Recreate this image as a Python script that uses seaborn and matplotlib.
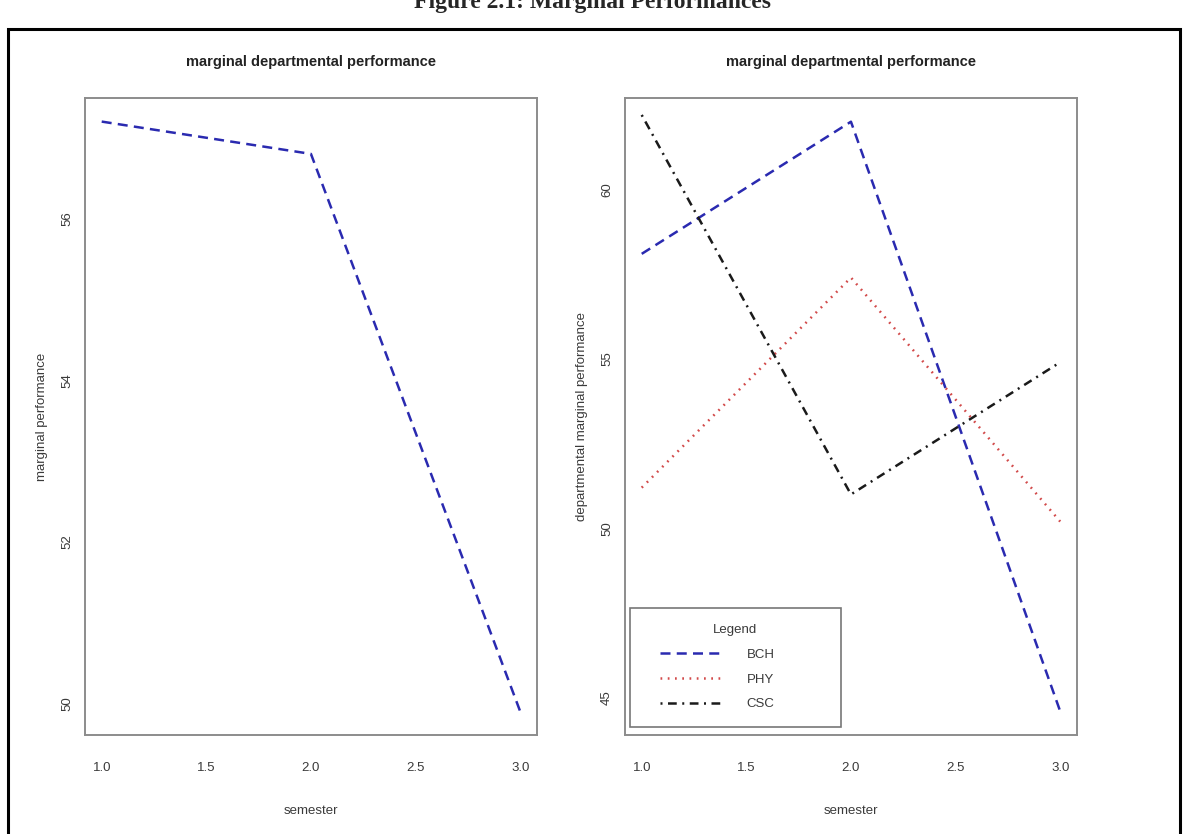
import matplotlib
matplotlib.use("Agg")
import matplotlib.pyplot as plt
import seaborn as sns
import numpy as np
import pandas as pd
from matplotlib.lines import Line2D
from matplotlib.patches import Rectangle

# values
semesters = [1.0, 2.0, 3.0]
marginal = [57.2, 56.8, 49.9]
departments = ["BCH", "PHY", "CSC"]
bch = [58.1, 62.0, 44.6]
phy = [51.2, 57.4, 50.2]
csc = [62.2, 51.0, 54.9]

x_ticks = [1.0, 1.5, 2.0, 2.5, 3.0]
x_ticklabels = ["1.0", "1.5", "2.0", "2.5", "3.0"]
left_yticks = [50, 52, 54, 56]
right_yticks = [45, 50, 55, 60]
right_ylim = (43.9, 62.7)

dept_colors = {"BCH": "#2a2ab0", "PHY": "#d24a4a", "CSC": "#1a1a1a"}
dept_dashes = {"BCH": (4, 2.5), "PHY": (0.7, 2.2), "CSC": (0.8, 2.2, 3.5, 2.2)}

TEXT = "#3a3a3a"
EDGE = "#8c8c8c"


def r_limits(vals, frac=0.04):
    lo, hi = min(vals), max(vals)
    pad = (hi - lo) * frac
    return lo - pad, hi + pad


def style_axes(ax, yticks, ylabel, title):
    ax.set_xlim(*r_limits(semesters))
    ax.set_xticks(x_ticks)
    ax.set_xticklabels(x_ticklabels)
    ax.set_yticks(yticks)
    ax.set_yticklabels([str(t) for t in yticks], rotation=90, va="center")
    ax.tick_params(axis="both", direction="out", length=5.5, width=1.0,
                   color=EDGE, labelcolor=TEXT, labelsize=9.5)
    ax.tick_params(axis="x", pad=14)
    ax.tick_params(axis="y", pad=3)
    for s in ax.spines.values():
        s.set_visible(True)
        s.set_color(EDGE)
        s.set_linewidth(1.4)
    ax.set_xlabel("semester", color=TEXT, fontsize=9.5, labelpad=22)
    ax.set_ylabel(ylabel, color=TEXT, fontsize=9.5, labelpad=9.5)
    ax.set_title(title, color="#222222", fontsize=10.5, fontweight="bold", pad=23)
    ax.grid(False)


sns.set_style("white")
plt.rcParams["font.family"] = ["Liberation Sans", "DejaVu Sans"]

fig = plt.figure(figsize=(11.85, 8.34), dpi=100)
ax1 = fig.add_axes([0.0717, 0.1187, 0.3814, 0.7638])
ax2 = fig.add_axes([0.5274, 0.1187, 0.3814, 0.7638])

# left panel: overall marginal performance
left_df = pd.DataFrame({"semester": semesters, "score": marginal})
sns.lineplot(data=left_df, x="semester", y="score", ax=ax1,
             color=dept_colors["BCH"], lw=1.8)
ax1.lines[0].set_dashes(dept_dashes["BCH"])
ax1.set_ylim(*r_limits(marginal))
style_axes(ax1, left_yticks, "marginal performance",
           "marginal departmental performance")

# right panel: per department
right_df = pd.DataFrame({
    "semester": semesters * 3,
    "score": bch + phy + csc,
    "dept": [d for d in departments for _ in semesters],
})
sns.lineplot(data=right_df, x="semester", y="score", hue="dept", style="dept",
             palette=dept_colors, dashes=dept_dashes, lw=1.8, ax=ax2, legend=False)
ax2.set_ylim(*right_ylim)
style_axes(ax2, right_yticks, "departmental marginal performance",
           "marginal departmental performance")

handles = [Line2D([0], [0], color=dept_colors[d], lw=1.8, dashes=dept_dashes[d])
           for d in departments]
leg = ax2.legend(handles, departments, title="Legend", loc="lower left",
                 bbox_to_anchor=(0.011, 0.0126, 0.467, 0.19), mode="expand",
                 frameon=True, fancybox=False,
                 handlelength=5.7, handletextpad=1.9, borderpad=1.25,
                 labelspacing=0.95, fontsize=9.5, title_fontsize=9.5,
                 borderaxespad=0)
leg.get_frame().set_edgecolor("#555555")
leg.get_frame().set_linewidth(1.2)
leg._legend_box.align = "center"
for t in leg.get_texts():
    t.set_color(TEXT)
leg.get_title().set_color(TEXT)
# indent the sample lines a little, like the R legend
for h in leg.legend_handles:
    xd = np.asarray(h.get_xdata(), dtype=float)
    h.set_xdata(np.linspace(xd[0] + 9.5, xd[-1], len(xd)))

# outer page frame and clipped caption
fig.add_artist(Rectangle((0.007, -0.05), 0.989, 1.015, transform=fig.transFigure,
                         fill=False, lw=2.2, ec="black"))
fig.text(0.5, 0.991, "Figure 2.1: Marginal Performances", ha="center", va="baseline",
         family=["Liberation Serif", "DejaVu Serif"], fontweight="bold", fontsize=17)

fig.savefig("out.png", dpi=100)
